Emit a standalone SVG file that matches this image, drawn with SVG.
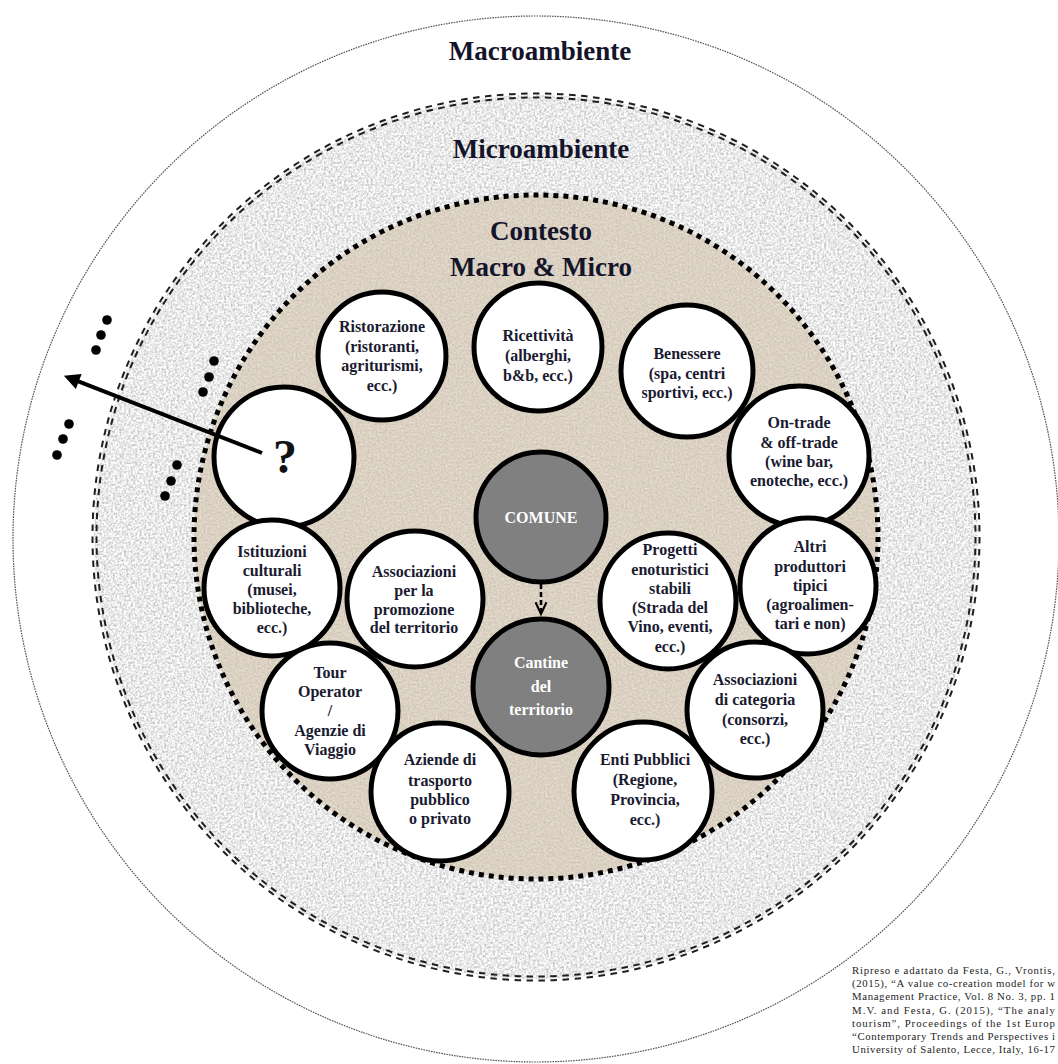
<svg xmlns="http://www.w3.org/2000/svg" width="1058" height="1064" viewBox="0 0 1058 1064">
  <defs>
    <style>
      .head { font-family: "Liberation Serif", "Times New Roman", serif; font-weight: bold; font-size: 27px; fill: #14142a; text-anchor: middle; }
      .node { fill: #ffffff; stroke: #000000; stroke-width: 5; }
      .core { fill: #808080; stroke: #000000; stroke-width: 5; }
      .nt { font-family: "Liberation Serif", "Times New Roman", serif; font-weight: bold; font-size: 16px; fill: #1a1a30; text-anchor: middle; }
      .ct { font-family: "Liberation Serif", "Times New Roman", serif; font-weight: bold; font-size: 16px; fill: #ffffff; text-anchor: middle; }
      .cite { font-family: "Liberation Serif", "Times New Roman", serif; font-size: 10.8px; fill: #1e1e1e; }
      .dot { fill: #000000; }
      .dash2 { fill: none; stroke: #1e1e1e; stroke-width: 2; }
    </style>
    <!-- fine mottled grain for the two textured bands -->
    <filter id="grainGrey" x="0" y="0" width="100%" height="100%" color-interpolation-filters="sRGB">
      <feTurbulence type="fractalNoise" baseFrequency="0.45" numOctaves="3" seed="4" result="t"/>
      <feColorMatrix in="t" type="matrix" values="0.5 0 0 0 0.665  0.5 0 0 0 0.665  0.5 0 0 0 0.665  0 0 0 0 1" result="g"/>
      <feComposite in="g" in2="SourceGraphic" operator="in"/>
    </filter>
    <filter id="grainSand" x="0" y="0" width="100%" height="100%" color-interpolation-filters="sRGB">
      <feTurbulence type="fractalNoise" baseFrequency="0.5" numOctaves="3" seed="11" result="t"/>
      <feColorMatrix in="t" type="matrix" values="0.18 0 0 0 0.77  0.18 0 0 0 0.73  0.18 0 0 0 0.675  0 0 0 0 1" result="g"/>
      <feComposite in="g" in2="SourceGraphic" operator="in"/>
    </filter>
    <marker id="tri" viewBox="0 0 10 10" refX="5" refY="5" markerWidth="5" markerHeight="4" orient="auto" markerUnits="strokeWidth">
      <path d="M0,0 L10,5 L0,10 z" fill="#000000"/>
    </marker>
    <marker id="chev" viewBox="0 0 12 10" refX="10" refY="5" markerWidth="6" markerHeight="5.5" orient="auto" markerUnits="strokeWidth">
      <path d="M1,0.8 L10,5 L1,9.2" fill="none" stroke="#000000" stroke-width="1.6"/>
    </marker>
  </defs>

  <rect width="1058" height="1064" fill="#ffffff"/>

  <!-- environment rings -->
  <g id="rings">
    <circle cx="536" cy="539" r="523" fill="none" stroke="#555555" stroke-width="1.2" stroke-dasharray="1.6 1"/>
    <circle cx="536" cy="537" r="442" fill="#000000" filter="url(#grainGrey)"/>
    <!-- double dashed boundary: equal pathLength keeps the paired dashes aligned -->
    <circle class="dash2" cx="536" cy="537" r="439.5" pathLength="2772" stroke-dasharray="6.5 5.5"/>
    <circle class="dash2" cx="536" cy="537" r="443.5" pathLength="2772" stroke-dasharray="6.5 5.5"/>
    <circle cx="536" cy="537" r="342" fill="#000000" filter="url(#grainSand)"/>
    <circle cx="536" cy="537" r="342" fill="none" stroke="#000000" stroke-width="5" pathLength="2150" stroke-dasharray="5 5"/>
  </g>

  <g id="titles">
    <text class="head" x="540" y="60">Macroambiente</text>
    <text class="head" x="541" y="158">Microambiente</text>
    <text class="head" x="541" y="240">Contesto</text>
    <text class="head" x="541" y="276">Macro &amp; Micro</text>
  </g>

  <!-- ellipsis marks around the open node -->
  <g id="dots">
    <circle class="dot" cx="107" cy="320" r="4.8"/>
    <circle class="dot" cx="101" cy="335" r="4.8"/>
    <circle class="dot" cx="96" cy="350" r="4.8"/>
    <circle class="dot" cx="214" cy="361" r="4.8"/>
    <circle class="dot" cx="209" cy="377" r="4.8"/>
    <circle class="dot" cx="203" cy="392" r="4.8"/>
    <circle class="dot" cx="69" cy="424" r="4.8"/>
    <circle class="dot" cx="63" cy="439" r="4.8"/>
    <circle class="dot" cx="57" cy="455" r="4.8"/>
    <circle class="dot" cx="177" cy="465" r="4.8"/>
    <circle class="dot" cx="171" cy="481" r="4.8"/>
    <circle class="dot" cx="165" cy="496" r="4.8"/>
  </g>

  <g id="n-ristorazione">
    <circle class="node" cx="382" cy="356" r="64"/>
    <text class="nt" x="382" y="332">Ristorazione</text>
    <text class="nt" x="382" y="352">(ristoranti,</text>
    <text class="nt" x="382" y="371">agriturismi,</text>
    <text class="nt" x="382" y="391">ecc.)</text>
  </g>
  <g id="n-ricettivita">
    <circle class="node" cx="538" cy="347" r="64"/>
    <text class="nt" x="538" y="341">Ricettività</text>
    <text class="nt" x="538" y="361">(alberghi,</text>
    <text class="nt" x="538" y="381">b&amp;b, ecc.)</text>
  </g>
  <g id="n-benessere">
    <circle class="node" cx="687" cy="371" r="66"/>
    <text class="nt" x="687" y="359">Benessere</text>
    <text class="nt" x="687" y="379">(spa, centri</text>
    <text class="nt" x="687" y="398">sportivi, ecc.)</text>
  </g>
  <g id="n-ontrade">
    <circle class="node" cx="799" cy="456" r="70"/>
    <text class="nt" x="799" y="428">On-trade</text>
    <text class="nt" x="799" y="448">&amp; off-trade</text>
    <text class="nt" x="799" y="467">(wine bar,</text>
    <text class="nt" x="799" y="486">enoteche, ecc.)</text>
  </g>
  <g id="n-altro">
    <circle class="node" cx="284" cy="457" r="70"/>
    <text class="nt" x="285" y="473" style="font-size:48px;fill:#111111">?</text>
  </g>
  <g id="n-istituzioni">
    <circle class="node" cx="272" cy="588" r="68"/>
    <text class="nt" x="272" y="557">Istituzioni</text>
    <text class="nt" x="272" y="576">culturali</text>
    <text class="nt" x="272" y="595">(musei,</text>
    <text class="nt" x="272" y="614">biblioteche,</text>
    <text class="nt" x="272" y="633">ecc.)</text>
  </g>
  <g id="n-promozione">
    <circle class="node" cx="415" cy="599" r="68"/>
    <text class="nt" x="414" y="577">Associazioni</text>
    <text class="nt" x="414" y="596">per la</text>
    <text class="nt" x="414" y="615">promozione</text>
    <text class="nt" x="414" y="633">del territorio</text>
  </g>
  <g id="n-tour">
    <circle class="node" cx="330" cy="711" r="68"/>
    <text class="nt" x="330" y="678">Tour</text>
    <text class="nt" x="330" y="697">Operator</text>
    <text class="nt" x="330" y="716">/</text>
    <text class="nt" x="330" y="736">Agenzie di</text>
    <text class="nt" x="330" y="755">Viaggio</text>
  </g>
  <g id="n-trasporto">
    <circle class="node" cx="440" cy="792" r="69"/>
    <text class="nt" x="440" y="765">Aziende di</text>
    <text class="nt" x="440" y="786">trasporto</text>
    <text class="nt" x="440" y="805">pubblico</text>
    <text class="nt" x="440" y="824">o privato</text>
  </g>
  <g id="n-progetti">
    <circle class="node" cx="668" cy="601" r="68"/>
    <text class="nt" x="670" y="555">Progetti</text>
    <text class="nt" x="670" y="575">enoturistici</text>
    <text class="nt" x="670" y="594">stabili</text>
    <text class="nt" x="670" y="613">(Strada del</text>
    <text class="nt" x="670" y="632">Vino, eventi,</text>
    <text class="nt" x="670" y="652">ecc.)</text>
  </g>
  <g id="n-produttori">
    <circle class="node" cx="808" cy="586" r="68"/>
    <text class="nt" x="810" y="552">Altri</text>
    <text class="nt" x="810" y="572">produttori</text>
    <text class="nt" x="810" y="591">tipici</text>
    <text class="nt" x="810" y="610">(agroalimen-</text>
    <text class="nt" x="810" y="629">tari e non)</text>
  </g>
  <g id="n-categoria">
    <circle class="node" cx="755" cy="710" r="68"/>
    <text class="nt" x="755" y="685">Associazioni</text>
    <text class="nt" x="755" y="705">di categoria</text>
    <text class="nt" x="755" y="725">(consorzi,</text>
    <text class="nt" x="755" y="744">ecc.)</text>
  </g>
  <g id="n-enti">
    <circle class="node" cx="643" cy="791" r="69"/>
    <text class="nt" x="645" y="765">Enti Pubblici</text>
    <text class="nt" x="645" y="785">(Regione,</text>
    <text class="nt" x="645" y="805">Provincia,</text>
    <text class="nt" x="645" y="825">ecc.)</text>
  </g>
  <g id="n-comune">
    <circle class="core" cx="541" cy="517" r="65"/>
    <text class="ct" x="541" y="523">COMUNE</text>
  </g>
  <g id="n-cantine">
    <circle class="core" cx="541" cy="687" r="68"/>
    <text class="ct" x="541" y="668">Cantine</text>
    <text class="ct" x="541" y="692">del</text>
    <text class="ct" x="541" y="715">territorio</text>
  </g>

  <g id="connectors">
    <line x1="262" y1="453" x2="71.3" y2="378.6" stroke="#000000" stroke-width="4" marker-end="url(#tri)"/>
    <line x1="541" y1="584" x2="541" y2="614" stroke="#000000" stroke-width="2.6" stroke-dasharray="5 3" marker-end="url(#chev)"/>
  </g>

  <g id="source">
    <text class="cite" x="852" y="974" textLength="203" lengthAdjust="spacing">Ripreso e adattato da Festa, G., Vrontis,</text>
    <text class="cite" x="852" y="987" textLength="203" lengthAdjust="spacing">(2015), “A value co-creation model for w</text>
    <text class="cite" x="852" y="1000" textLength="203" lengthAdjust="spacing">Management Practice, Vol. 8 No. 3, pp. 1</text>
    <text class="cite" x="852" y="1014" textLength="203" lengthAdjust="spacing">M.V. and Festa, G. (2015), “The analy</text>
    <text class="cite" x="852" y="1027" textLength="203" lengthAdjust="spacing">tourism”, Proceedings of the 1st Europ</text>
    <text class="cite" x="852" y="1040" textLength="203" lengthAdjust="spacing">“Contemporary Trends and Perspectives i</text>
    <text class="cite" x="852" y="1053" textLength="203" lengthAdjust="spacing">University of Salento, Lecce, Italy, 16-17</text>
  </g>
</svg>
